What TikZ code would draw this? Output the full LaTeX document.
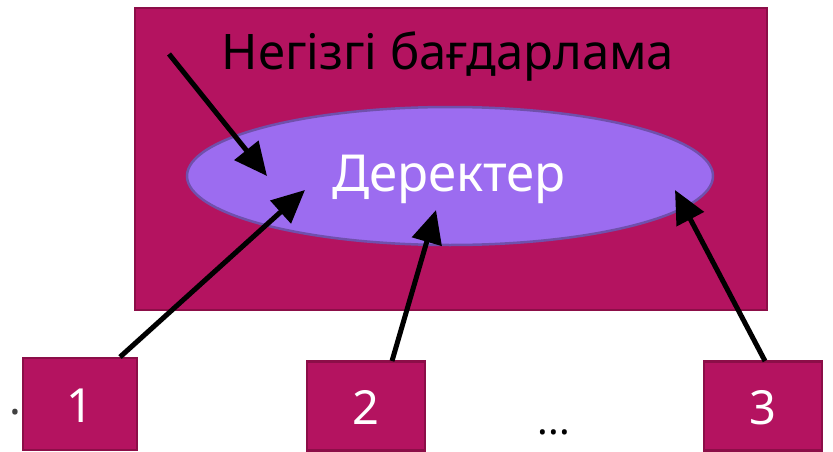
\documentclass[tikz,border=0pt]{standalone}
\usepackage{fontspec}
\setmainfont{Noto Sans}
\usetikzlibrary{arrows.meta,shapes.geometric,shadows}
\definecolor{mag}{RGB}{180,19,96}
\definecolor{magdark}{RGB}{140,14,72}
\definecolor{viol}{RGB}{156,108,240}
\definecolor{violdark}{RGB}{112,80,172}
\definecolor{txtgray}{RGB}{64,64,64}
\tikzset{
  magbox/.style={draw=magdark, fill=mag, line width=2.5pt, inner sep=0pt},
  violell/.style={ellipse, draw=violdark, fill=viol, line width=2.5pt, inner sep=0pt},
  wtext/.style={text=white, font=\fontsize{47}{50}\selectfont},
  bigarrow/.style={line width=5pt, black, -{Triangle[length=33pt,width=30pt]},
    drop shadow={shadow xshift=2pt, shadow yshift=-2pt, opacity=0.25}},
}
\begin{document}
\begin{tikzpicture}[x=1pt,y=-1pt]
\useasboundingbox (0,0) rectangle (833,452);
% main program rectangle
\node[magbox, minimum width=632pt, minimum height=302pt] (main) at (451,159) {};
\node[font=\fontsize{49}{52}\selectfont, text=black, anchor=base] (title) at (448,70) {Негізгі бағдарлама};
% data ellipse
\node[violell, minimum width=526pt, minimum height=138pt] (data) at (450,176) {};
\node[font=\fontsize{51}{54}\selectfont, text=white, anchor=base] (datatxt) at (449,191) {Деректер};
% module boxes
\node[magbox, minimum width=114pt, minimum height=92pt] (b1) at (80,404) {};
\node[wtext, anchor=base] (n1) at (80,422) {1};
\node[magbox, minimum width=118pt, minimum height=89pt] (b2) at (366,406) {};
\node[wtext, anchor=base] (n2) at (366,424) {2};
\node[magbox, minimum width=118pt, minimum height=89pt] (b3) at (763,406) {};
\node[wtext, anchor=base] (n3) at (763,424) {3};
% dots and cut-off list marker
\node[font=\fontsize{40}{44}\selectfont, anchor=base] (dots) at (554,434) {...};
\node[font=\fontsize{44}{48}\selectfont, text=txtgray, anchor=base east, inner sep=0pt] (lm) at (21,414) {1.};
% arrow endpoints
\coordinate (s0) at (169,54);
\coordinate (t0) at (267,176);
\coordinate (s1) at (120,357);
\coordinate (t1) at (305,190);
\coordinate (s2) at (392,361);
\coordinate (t2) at (436,210);
\coordinate (s3) at (765,361);
\coordinate (t3) at (675,190);
\draw[bigarrow] (s0) -- (t0);
\draw[bigarrow] (s1) -- (t1);
\draw[bigarrow] (s2) -- (t2);
\draw[bigarrow] (s3) -- (t3);
\end{tikzpicture}
\end{document}
